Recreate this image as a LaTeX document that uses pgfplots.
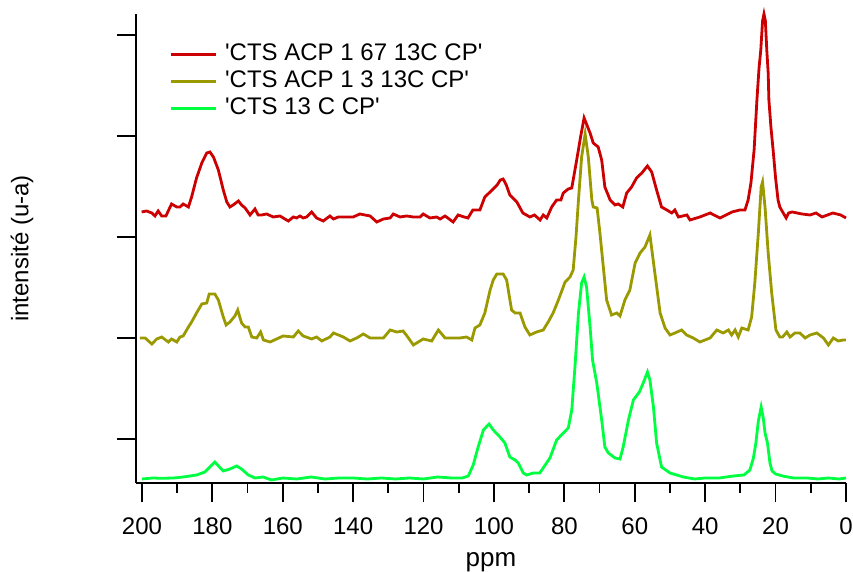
\documentclass[border=0pt]{standalone}
\usepackage{pgfplots}
\pgfplotsset{compat=1.18}
\usepackage{fontspec}
\setmainfont{Liberation Sans}
\definecolor{cred}{RGB}{204,0,0}
\definecolor{colive}{RGB}{155,153,0}
\definecolor{cgreen}{RGB}{0,255,64}
\pgfplotstableread{
x y
200.1 271
198.7 272
197.2 270
196.3 267
195.4 272
194.4 267
193.2 267
191.6 279
190.1 276
189.2 276
188.3 279
186.8 276
185.9 286
184.5 305
183.0 320
181.6 330
180.7 331
179.7 326
178.3 313
176.9 293
175.9 281
175.0 276
174.1 278
172.6 282
171.7 278
170.7 275
169.3 268
167.9 274
167.0 268
166.0 268
164.6 269
162.7 266
160.8 267
159.4 264
158.4 262
157.0 266
156.1 265
155.1 267
154.2 265
153.2 266
151.8 271
150.4 265
148.5 262
146.6 267
145.6 264
144.2 266
141.8 266
140.0 266
138.1 269
135.2 267
133.3 261
131.4 264
129.5 265
128.6 269
126.7 266
124.8 267
122.9 266
121.0 266
120.1 269
118.2 265
116.3 266
115.3 264
113.9 267
111.6 261
110.2 268
108.5 266
107.4 265
106.0 273
104.0 273
102.6 286
101.1 291
99.1 298
98.2 303
97.4 304
96.5 298
95.5 288
93.5 281
91.8 270
89.8 266
88.5 268
86.9 263
86.0 268
85.0 265
83.6 276
82.2 283
81.0 283
80.3 290
78.9 294
77.9 295
76.5 323
75.4 346
74.4 365
72.7 350
71.8 340
70.4 336
69.4 323
68.5 296
67.0 283
65.6 278
64.7 279
63.4 276
62.3 290
60.9 296
59.5 305
58.0 310
56.4 317
55.2 311
53.8 293
52.4 276
50.9 273
49.5 270
48.6 273
47.6 266
45.2 268
44.3 263
41.5 266
38.6 270
35.8 265
32.4 271
30.1 273
28.7 273
27.8 283
27.0 300
26.1 333
25.3 383
24.7 415
24.2 433
23.7 462
23.3 469
22.9 462
22.5 433
22.1 410
21.9 383
21.3 355
20.7 333
20.0 305
19.3 283
18.8 276
17.0 265
16.3 270
15.3 271
12.5 269
10.2 268
8.5 270
6.8 266
3.7 270
1.5 268
0.0 265
}\redtab
\pgfplotstableread{
x y
200.6 145
199.1 145
197.2 139
195.8 144
194.4 146
192.5 141
191.6 144
190.1 141
189.2 146
188.3 147
186.8 156
185.9 161
184.5 170
183.0 179
181.6 180
180.9 189
179.3 189
178.3 183
176.9 166
176.1 158
175.0 161
173.6 167
172.8 173
171.7 160
170.7 156
169.8 156
168.8 146
167.4 145
166.3 151
165.5 143
163.6 141
159.9 147
157.0 146
155.6 152
154.2 147
151.8 144
150.4 146
148.9 142
146.6 146
145.6 150
142.8 146
140.9 142
139.0 145
137.1 149
135.2 145
131.4 145
129.5 153
127.6 151
125.8 152
124.3 145
122.9 138
120.1 144
117.7 142
115.8 153
113.9 145
111.6 145
109.7 145
107.8 146
106.3 143
105.4 155
104.0 158
102.6 170
101.1 193
100.2 203
99.2 209
97.4 209
96.4 203
95.0 173
94.0 170
92.6 170
91.2 156
89.8 148
87.9 151
86.0 153
84.6 161
83.2 170
81.7 183
79.8 201
78.4 206
77.5 213
76.7 246
76.0 283
75.1 326
74.1 349
73.2 326
72.2 283
71.8 276
70.7 275
69.9 250
68.0 183
66.6 168
65.1 170
64.2 167
62.8 183
61.4 193
59.9 220
58.5 230
57.1 236
55.7 248
54.3 210
52.8 170
51.4 155
50.0 148
48.6 150
46.7 153
45.3 148
43.4 145
41.5 141
38.6 145
36.7 153
34.9 150
33.4 153
32.5 148
31.5 153
30.6 146
29.6 155
27.8 153
26.8 166
25.9 200
24.9 250
24.1 296
23.7 301
23.0 276
22.1 230
21.1 190
19.9 153
18.8 146
18.0 146
16.8 151
15.9 146
14.5 150
13.1 150
11.6 145
10.2 148
8.3 150
6.4 145
5.0 138
3.6 145
2.2 142
0.8 143
0.0 143
}\olivetab
\pgfplotstableread{
x y
200.0 4
197.0 5
194.4 4.7
191.0 5
188.3 6
184.5 8
182.1 11
180.7 16
179.3 21
178.0 16
176.9 12
175.0 14
173.1 17
171.7 14
169.8 8
167.9 5
165.6 6
163.2 3
160.0 5
156.0 4
152.0 6
148.0 4
144.0 5
140.0 5
136.0 4
132.0 5
128.0 4
124.0 5
120.0 4
116.0 6
112.0 5
109.0 5
107.3 7
105.9 18
104.5 36
103.0 53
101.4 59
100.2 53
98.3 46
96.9 40
95.5 26
94.0 23
93.1 20
91.7 10
90.7 8
88.8 10
87.0 10
84.1 25
82.2 43
80.3 50
78.9 55
77.9 73
77.0 116
76.0 170
75.1 200
74.4 206
73.7 196
72.7 156
72.0 123
70.8 100
69.4 63
68.5 36
67.5 30
65.6 25
64.2 24
63.3 36
61.8 63
60.4 83
58.7 91
57.6 100
56.4 111
55.7 103
54.7 76
53.8 40
52.4 16
50.0 10
46.2 6
43.0 4
40.0 5
36.0 5
32.0 7
29.0 8
27.3 13
26.3 25
25.6 40
24.9 62
24.1 76
23.5 65
23.0 50
22.3 40
21.6 20
21.0 12
20.0 9
18.0 7
15.0 5
11.0 5
8.0 4
5.0 5
2.0 4
0.0 5
}\greentab
\begin{document}
\begin{tikzpicture}
\useasboundingbox (-68pt,-44.5pt) rectangle (358.5pt,241.5pt);
\begin{axis}[
  at={(0,0)}, anchor=south west,
  scale only axis,
  width=355pt, height=234.5pt,
  x dir=reverse,
  xmin=0, xmax=201.7,
  ymin=0, ymax=469,
  clip=false,
  axis x line*=bottom, axis y line*=left,
  axis line style={line width=1pt, black, -},
  xtick={0,20,...,200},
  minor x tick num=1,
  ytick={44,145,246,347,448},
  yticklabels={},
  tick align=outside,
  major tick length=9.5pt,
  minor tick length=5pt,
  every tick/.style={black, line width=0.9pt},
  /pgf/number format/assume math mode=true,
  ticklabel style={font=\fontsize{12}{14}\selectfont},
  xticklabel style={yshift=-4.5pt},
  xlabel={ppm},
  every axis x label/.style={at={(rel axis cs:0.5,0)}, anchor=center, yshift=-39.5pt, inner sep=0pt, font=\fontsize{13}{15}\selectfont},
  ylabel={intensité (u-a)},
  every axis y label/.style={at={(rel axis cs:0,0.5)}, xshift=-57pt, rotate=90, anchor=center, inner sep=0pt, font=\fontsize{12}{14}\selectfont},
  legend cell align=left,
  legend image code/.code={\draw[#1] (0pt,0pt) -- (22.5pt,0pt);},
  legend style={at={(rel axis cs:0.038,0.952)}, anchor=north west, draw=none, fill=none,
    font=\fontsize{12}{14}\selectfont, row sep=0pt,
    nodes={inner ysep=1pt, inner xsep=4pt, text height=8.6pt, text depth=3pt}},
]
\addplot[cred, line width=1.4pt] table {\redtab};
\addlegendentry{\textquotesingle CTS ACP 1 67 13C CP\textquotesingle}
\addplot[colive, line width=1.4pt] table {\olivetab};
\addlegendentry{\textquotesingle CTS ACP 1 3 13C CP\textquotesingle}
\addplot[cgreen, line width=1.4pt] table {\greentab};
\addlegendentry{\textquotesingle CTS 13 C CP\textquotesingle}
\end{axis}
\end{tikzpicture}
\end{document}
